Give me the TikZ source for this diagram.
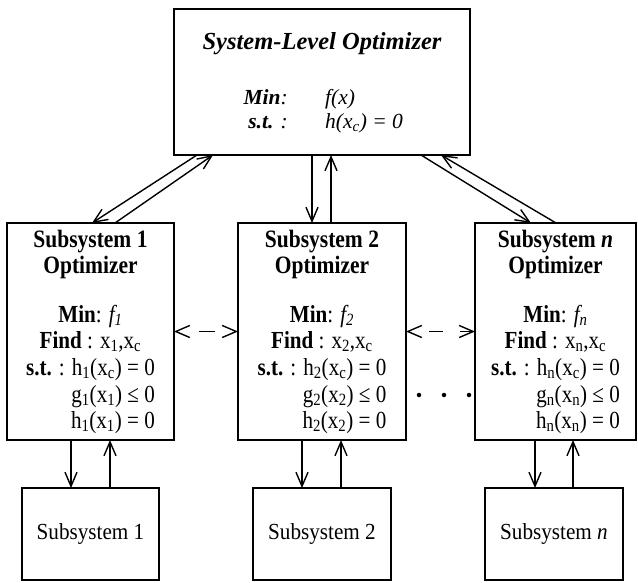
\documentclass[tikz,border=0pt]{standalone}
\usepackage{fontspec}
\setmainfont{Liberation Serif}
\newfontfamily\cf{Liberation Serif}[FakeStretch=0.86]
\newfontfamily\bottomfont{Liberation Serif}[FakeStretch=0.92]
\usetikzlibrary{arrows.meta}
\newcommand{\sbs}[1]{\textsubscript{#1}}
\begin{document}
\begin{tikzpicture}[x=1pt,y=-1pt,
  boxst/.style={draw, line width=1.8pt, inner sep=0pt, outer sep=0pt},
  tip/.tip={Straight Barb[length=14pt,width=12pt,line width=1.4pt]},
  arr/.style={line width=1.4pt, -tip},
  darrl/.style={line width=1.4pt, dash pattern=on 0pt off 23pt on 16pt off 100pt, tip-tip},
  darrr/.style={line width=1.4pt, dash pattern=on 0pt off 21pt on 14pt off 17pt on 100pt, tip-tip},
  ttl/.style={font=\fontsize{24.5}{28}\selectfont\bfseries\itshape, anchor=base, inner sep=0pt},
  toptxt/.style={font=\fontsize{21.5}{26}\selectfont\itshape, inner sep=0pt},
  sub/.style={font=\cf\fontsize{25}{28}\selectfont\bfseries, anchor=base, inner sep=0pt},
  body/.style={font=\cf\fontsize{24.5}{28}\selectfont, anchor=base, inner sep=0pt},
  bodyr/.style={font=\cf\fontsize{24.5}{28}\selectfont, anchor=base east, inner sep=0pt},
  bottxt/.style={font=\bottomfont\fontsize{23}{26}\selectfont},
  dot/.style={circle, fill, inner sep=0pt, minimum size=4.5pt}
]
\useasboundingbox (0,0) rectangle (638,582);

% system-level optimizer
\node[boxst, minimum width=296pt, minimum height=146pt] (top) at (322,82) {};
\node[ttl] (title) at (322,49) {System-Level Optimizer};
\node[toptxt, anchor=base east] (minl) at (288,104) {\textbf{Min}:};
\node[toptxt, anchor=base west] (minr) at (325,104) {f(x)};
\node[toptxt, anchor=base east] (stl) at (288,128) {\textbf{s.t.} :};
\node[toptxt, anchor=base west] (str) at (325,128) {h(x\sbs{c}) = 0};

% subsystem optimizers
\node[boxst, minimum width=167pt, minimum height=217pt] (s1) at (90.5,331.5) {};
\node[boxst, minimum width=168pt, minimum height=217pt] (s2) at (322,331.5) {};
\node[boxst, minimum width=161pt, minimum height=217pt] (sn) at (555.5,331.5) {};

% texts subsystem 1
\node[sub] (s1a) at (90.5,247) {Subsystem 1};
\node[sub] (s1b) at (90.5,273) {Optimizer};
\node[body] (s1c) at (90.5,322) {\textbf{Min}: \textit{f\sbs{1}}};
\node[body] (s1d) at (90.5,348) {\textbf{Find} : x\sbs{1},x\sbs{c}};
\node[body] (s1e) at (90.5,375) {\textbf{s.t.} : h\sbs{1}(x\sbs{c}) = 0};
\node[bodyr] (s1f) at ([yshift=-27pt]s1e.base east) {g\sbs{1}(x\sbs{1}) ≤ 0};
\node[bodyr] (s1g) at ([yshift=-26pt]s1f.base east) {h\sbs{1}(x\sbs{1}) = 0};

% texts subsystem 2
\node[sub] (s2a) at (322,247) {Subsystem 2};
\node[sub] (s2b) at (322,273) {Optimizer};
\node[body] (s2c) at (322,322) {\textbf{Min}: \textit{f\sbs{2}}};
\node[body] (s2d) at (322,348) {\textbf{Find} : x\sbs{2},x\sbs{c}};
\node[body] (s2e) at (322,375) {\textbf{s.t.} : h\sbs{2}(x\sbs{c}) = 0};
\node[bodyr] (s2f) at ([yshift=-27pt]s2e.base east) {g\sbs{2}(x\sbs{2}) ≤ 0};
\node[bodyr] (s2g) at ([yshift=-26pt]s2f.base east) {h\sbs{2}(x\sbs{2}) = 0};

% texts subsystem n
\node[sub] (sna) at (555.5,247) {Subsystem \textit{n}};
\node[sub] (snb) at (555.5,273) {Optimizer};
\node[body] (snc) at (555.5,322) {\textbf{Min}: \textit{f\sbs{n}}};
\node[body] (snd) at (555.5,348) {\textbf{Find} : x\sbs{n},x\sbs{c}};
\node[body] (sne) at (555.5,375) {\textbf{s.t.} : h\sbs{n}(x\sbs{c}) = 0};
\node[bodyr] (snf) at ([yshift=-27pt]sne.base east) {g\sbs{n}(x\sbs{n}) ≤ 0};
\node[bodyr] (sng) at ([yshift=-26pt]snf.base east) {h\sbs{n}(x\sbs{n}) = 0};

% bottom subsystems
\node[boxst, bottxt, minimum width=137pt, minimum height=92pt] (b1) at (90.5,534) {Subsystem 1};
\node[boxst, bottxt, minimum width=138pt, minimum height=92pt] (b2) at (322,534) {Subsystem 2};
\node[boxst, bottxt, minimum width=138pt, minimum height=92pt] (bn) at (554,534) {Subsystem \textit{n}};

% top <-> subsystem optimizers
\draw[arr] ([xshift=23pt]top.south west) -- ([xshift=1.5pt]s1.north);
\draw[arr] ([xshift=24.5pt]s1.north) -- ([xshift=39pt]top.south west);
\draw[arr] ([xshift=-10pt]top.south) -- ([xshift=-10pt]s2.north);
\draw[arr] ([xshift=9pt]s2.north) -- ([xshift=9pt]top.south);
\draw[arr] ([xshift=-49pt]top.south east) -- ([xshift=-24.5pt]sn.north);
\draw[arr] ([xshift=0.5pt]sn.north) -- ([xshift=-29pt]top.south east);

% optimizers <-> subsystems
\draw[arr] ([xshift=-19.5pt]s1.south) -- ([xshift=-19.5pt]b1.north);
\draw[arr] ([xshift=19.5pt]b1.north) -- ([xshift=19.5pt]s1.south);
\draw[arr] ([xshift=-20pt]s2.south) -- ([xshift=-20pt]b2.north);
\draw[arr] ([xshift=19pt]b2.north) -- ([xshift=19pt]s2.south);
\draw[arr] ([xshift=-20.5pt]sn.south) -- ([xshift=-19pt]bn.north);
\draw[arr] ([xshift=19pt]bn.north) -- ([xshift=17.5pt]sn.south);

% lateral dashed
\draw[darrl] (s1.east) -- (s2.west);
\draw[darrr] (s2.east) -- (sn.west);

% dots
\node[dot] (d1) at (419,395) {};
\node[dot] (d2) at (444,395) {};
\node[dot] (d3) at (469,395) {};
\end{tikzpicture}
\end{document}
